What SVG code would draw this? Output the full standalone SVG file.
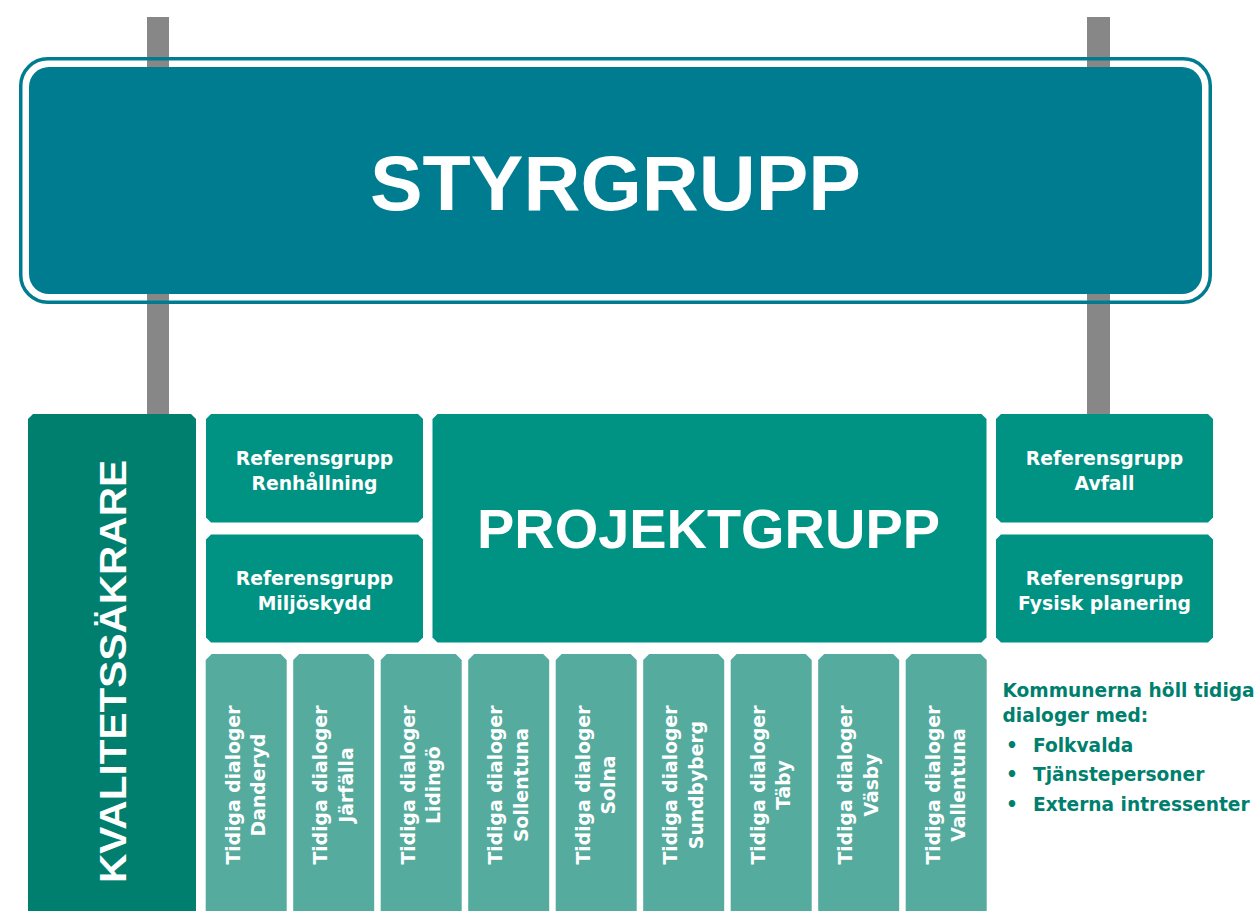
<svg xmlns="http://www.w3.org/2000/svg" width="1258" height="911" viewBox="0 0 1258 911">
<style>
.post{fill:#878787}
.styr{fill:#007C91}
.styr-border{fill:none;stroke:#007C91;stroke-width:3.5}
.kval{fill:#007F6E}
.main{fill:#009283}
.dlg{fill:#55AB9E}
.t{font-family:"DejaVu Sans","Liberation Sans",sans-serif;font-weight:bold;fill:#fff;font-size:18.8px;text-anchor:middle}
.big{font-family:"Liberation Sans","DejaVu Sans",sans-serif;font-weight:bold;fill:#fff;text-anchor:middle}
.note{font-family:"DejaVu Sans","Liberation Sans",sans-serif;font-weight:bold;fill:#007F6E;font-size:18.6px}
</style>
<rect width="1258" height="911" fill="#fff"/>
<g id="connectors">
  <rect class="post" x="147" y="17" width="22" height="397"/>
  <rect class="post" x="1087" y="17" width="23" height="397"/>
</g>
<g id="styrgrupp">
  <rect class="styr-border" x="20.75" y="58.75" width="1189.5" height="243.5" rx="27" ry="27"/>
  <rect class="styr" x="29" y="67" width="1173" height="227" rx="20" ry="20"/>
  <text class="big" x="615.5" y="210" font-size="77" textLength="491" lengthAdjust="spacingAndGlyphs">STYRGRUPP</text>
</g>
<g id="kvalitetssakrare">
  <path class="kval" d="M33,414 H191 L196,419 V915 H28 V419 Z"/>
  <g transform="translate(112,671.5) rotate(-90)">
    <text class="big" x="0" y="14" font-size="36" textLength="423" lengthAdjust="spacingAndGlyphs">KVALITETSSÄKRARE</text>
  </g>
</g>
<g id="ref-renhallning">
  <path class="main" d="M211,414 H418 L423,419 V517.5 L418,522.5 H211 L206,517.5 V419 Z"/>
  <text class="t" x="314.5" y="465">Referensgrupp</text>
  <text class="t" x="314.5" y="489.5">Renhållning</text>
</g>
<g id="ref-miljoskydd">
  <path class="main" d="M211,534.5 H418 L423,539.5 V637.5 L418,642.5 H211 L206,637.5 V539.5 Z"/>
  <text class="t" x="314.5" y="585">Referensgrupp</text>
  <text class="t" x="314.5" y="609.5">Miljöskydd</text>
</g>
<g id="projektgrupp">
  <path class="main" d="M437.5,414 H981.5 L986.5,419 V637.5 L981.5,642.5 H437.5 L432.5,637.5 V419 Z"/>
  <text class="big" x="708.5" y="548.3" font-size="55" textLength="463" lengthAdjust="spacingAndGlyphs">PROJEKTGRUPP</text>
</g>
<g id="ref-avfall">
  <path class="main" d="M1001,414 H1208 L1213,419 V517.5 L1208,522.5 H1001 L996,517.5 V419 Z"/>
  <text class="t" x="1104.5" y="465">Referensgrupp</text>
  <text class="t" x="1104.5" y="489.5">Avfall</text>
</g>
<g id="ref-fysisk-planering">
  <path class="main" d="M1001,534.5 H1208 L1213,539.5 V637.5 L1208,642.5 H1001 L996,637.5 V539.5 Z"/>
  <text class="t" x="1104.5" y="585">Referensgrupp</text>
  <text class="t" x="1104.5" y="609.5">Fysisk planering</text>
</g>
<g id="dialog-danderyd">
  <path class="dlg" d="M211.7,654 H280.7 L286.7,660 V915 H205.7 V660 Z"/>
  <g transform="translate(246.2,785) rotate(-90)"><text class="t" y="-6.5">Tidiga dialoger</text><text class="t" y="19">Danderyd</text></g>
</g>
<g id="dialog-jarfalla">
  <path class="dlg" d="M299.2,654 H368.2 L374.2,660 V915 H293.2 V660 Z"/>
  <g transform="translate(333.7,785) rotate(-90)"><text class="t" y="-6.5">Tidiga dialoger</text><text class="t" y="19">Järfälla</text></g>
</g>
<g id="dialog-lidingo">
  <path class="dlg" d="M386.7,654 H455.7 L461.7,660 V915 H380.7 V660 Z"/>
  <g transform="translate(421.2,785) rotate(-90)"><text class="t" y="-6.5">Tidiga dialoger</text><text class="t" y="19">Lidingö</text></g>
</g>
<g id="dialog-sollentuna">
  <path class="dlg" d="M474.2,654 H543.2 L549.2,660 V915 H468.2 V660 Z"/>
  <g transform="translate(508.7,785) rotate(-90)"><text class="t" y="-6.5">Tidiga dialoger</text><text class="t" y="19">Sollentuna</text></g>
</g>
<g id="dialog-solna">
  <path class="dlg" d="M561.7,654 H630.7 L636.7,660 V915 H555.7 V660 Z"/>
  <g transform="translate(596.2,785) rotate(-90)"><text class="t" y="-6.5">Tidiga dialoger</text><text class="t" y="19">Solna</text></g>
</g>
<g id="dialog-sundbyberg">
  <path class="dlg" d="M649.2,654 H718.2 L724.2,660 V915 H643.2 V660 Z"/>
  <g transform="translate(683.7,785) rotate(-90)"><text class="t" y="-6.5">Tidiga dialoger</text><text class="t" y="19">Sundbyberg</text></g>
</g>
<g id="dialog-taby">
  <path class="dlg" d="M736.7,654 H805.7 L811.7,660 V915 H730.7 V660 Z"/>
  <g transform="translate(771.2,785) rotate(-90)"><text class="t" y="-6.5">Tidiga dialoger</text><text class="t" y="19">Täby</text></g>
</g>
<g id="dialog-vasby">
  <path class="dlg" d="M824.2,654 H893.2 L899.2,660 V915 H818.2 V660 Z"/>
  <g transform="translate(858.7,785) rotate(-90)"><text class="t" y="-6.5">Tidiga dialoger</text><text class="t" y="19">Väsby</text></g>
</g>
<g id="dialog-vallentuna">
  <path class="dlg" d="M911.7,654 H980.7 L986.7,660 V915 H905.7 V660 Z"/>
  <g transform="translate(946.2,785) rotate(-90)"><text class="t" y="-6.5">Tidiga dialoger</text><text class="t" y="19">Vallentuna</text></g>
</g>
<g id="note">
  <text class="note" x="1002.5" y="696.7">Kommunerna höll tidiga</text>
  <text class="note" x="1002.5" y="722.3">dialoger med:</text>
  <text class="note" x="1012" y="751.7" text-anchor="middle">•</text>
  <text class="note" x="1033" y="751.7">Folkvalda</text>
  <text class="note" x="1012" y="781" text-anchor="middle">•</text>
  <text class="note" x="1033" y="781">Tjänstepersoner</text>
  <text class="note" x="1012" y="810.7" text-anchor="middle">•</text>
  <text class="note" x="1033" y="810.7">Externa intressenter</text>
</g>
</svg>
